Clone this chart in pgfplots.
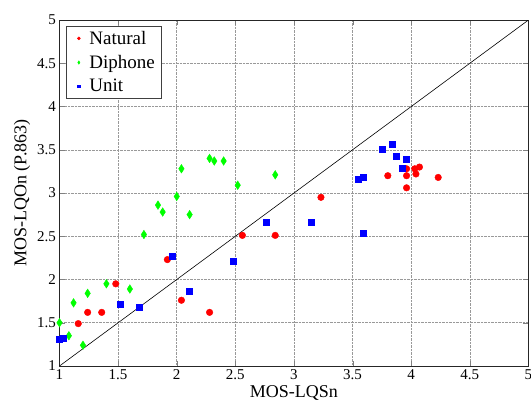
\documentclass[border=0pt]{standalone}
\usepackage{fontspec}
\setmainfont{Liberation Serif}
\usepackage{pgfplots}
\pgfplotsset{compat=1.18}
\begin{document}
\begin{tikzpicture}
\begin{axis}[
  at={(0,0)}, anchor=south west,
  scale only axis, width=469pt, height=346pt,
  xmin=1, xmax=5, ymin=1, ymax=5,
  xtick={1,1.5,2,2.5,3,3.5,4,4.5,5}, ytick={1,1.5,2,2.5,3,3.5,4,4.5,5},
  tick align=inside, major tick length=5pt,
  tick label style={font=\fontsize{15}{17}\selectfont},
  /pgf/number format/assume math mode=true,
  grid=major, major grid style={densely dotted, gray!80, line width=0.5pt},
  axis line style={black!85, line width=0.6pt},
  xlabel={MOS-LQSn}, ylabel={MOS-LQOn (P.863)},
  label style={font=\fontsize{18}{21}\selectfont},
  xlabel style={at={(axis description cs:0.5,0)}, anchor=base, yshift=-31pt},
  ylabel style={at={(axis description cs:-0.08,0.5)}, anchor=center},
  legend style={at={(0.0139,0.9835)}, anchor=north west, font=\fontsize{19}{22}\selectfont,
    draw=black!75, line width=0.6pt, inner xsep=4pt, inner ysep=3pt, row sep=5.5pt},
  legend cell align=left,
  legend image code/.code={\path[draw=none,fill=none] (0cm,0cm) (0.6cm,0cm); \draw[#1, only marks] plot coordinates {(0.3cm,0cm)};},
]
\addplot[black, line width=0.6pt, forget plot] coordinates {(1,1) (5,5)};
\addplot[only marks, mark=*, mark size=3.3pt, draw=red, fill=red, legend image post style={mark size=1.4pt}] coordinates {
(1.16,1.49) (1.24,1.62) (1.36,1.62) (1.48,1.95) (1.92,2.23) (2.04,1.76)
(2.28,1.62) (2.56,2.51) (2.84,2.51) (3.23,2.95) (3.80,3.20) (3.96,3.28)
(4.03,3.28) (4.07,3.30) (4.04,3.22) (3.96,3.20) (3.96,3.06) (4.23,3.18)
};
\addlegendentry{Natural}
\addplot[only marks, mark=diamond*, mark size=4.3pt, mark options={xscale=0.85}, draw=green, fill=green, legend image post style={mark size=1.6pt}] coordinates {
(1.00,1.50) (1.08,1.35) (1.12,1.73) (1.20,1.24) (1.24,1.84) (1.40,1.95)
(1.60,1.89) (1.72,2.52) (1.84,2.86) (1.88,2.78) (2.00,2.96) (2.04,3.28)
(2.11,2.75) (2.28,3.40) (2.32,3.37) (2.40,3.37) (2.52,3.09) (2.84,3.21)
};
\addlegendentry{Diphone}
\addplot[only marks, mark=square*, mark size=3pt, draw=blue, fill=blue, legend image post style={mark size=1.3pt}] coordinates {
(1.00,1.31) (1.035,1.32) (1.515,1.71) (1.68,1.68) (1.96,2.275) (2.11,1.87)
(2.48,2.21) (2.76,2.665) (3.15,2.665) (3.59,2.53) (3.55,3.16) (3.59,3.18)
(3.755,3.51) (3.835,3.565) (3.875,3.43) (3.955,3.385) (3.92,3.285)
};
\addlegendentry{Unit}
\end{axis}
\pgfresetboundingbox
\path (-59.5pt,-38.7pt) rectangle (471.5pt,366pt);
\end{tikzpicture}
\end{document}
